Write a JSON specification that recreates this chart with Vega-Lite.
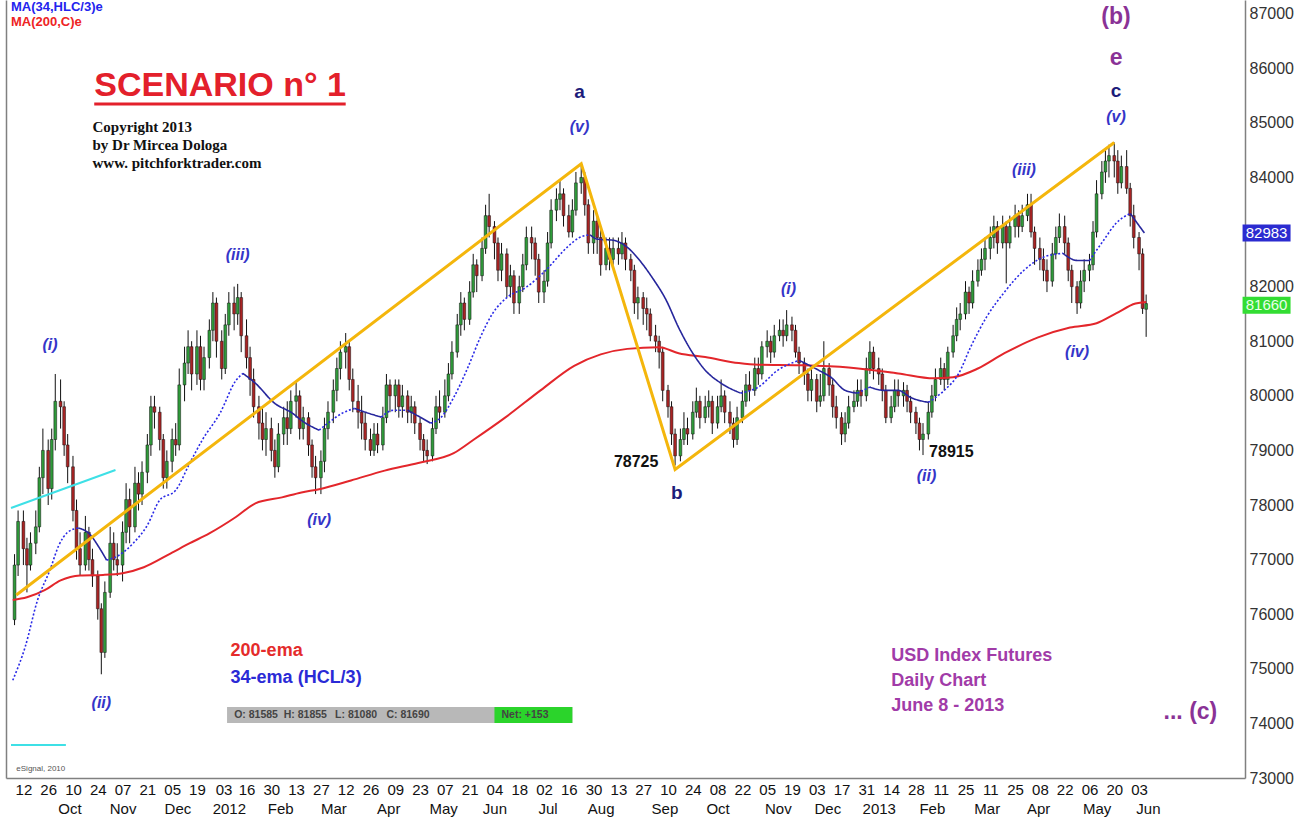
{
"$schema":"https://vega.github.io/schema/vega-lite/v6.json",
"width":1239,"height":778,"autosize":"none",
"padding":{"left":6,"right":64,"top":0,"bottom":43},
"background":"white",
"config":{"view":{"stroke":null},"text":{"font":"Liberation Sans"},"axis":{"labelFont":"Liberation Sans"}},
"datasets":{
"candles":[
{"d":"2011-09-07","o":75900,"h":77100,"l":75800,"c":76900},
{"d":"2011-09-09","o":76900,"h":77900,"l":76700,"c":77700},
{"d":"2011-09-12","o":77700,"h":77900,"l":76900,"c":77200},
{"d":"2011-09-14","o":77200,"h":77400,"l":76400,"c":76900},
{"d":"2011-09-16","o":76900,"h":77500,"l":76800,"c":77300},
{"d":"2011-09-19","o":77300,"h":77900,"l":77100,"c":77600},
{"d":"2011-09-21","o":77600,"h":78700,"l":77500,"c":78500},
{"d":"2011-09-23","o":78500,"h":79400,"l":78200,"c":79000},
{"d":"2011-09-26","o":79000,"h":79200,"l":78000,"c":78300},
{"d":"2011-09-28","o":78300,"h":79400,"l":78100,"c":79200},
{"d":"2011-09-30","o":79200,"h":80400,"l":79000,"c":79900},
{"d":"2011-10-03","o":79900,"h":80300,"l":79400,"c":79800},
{"d":"2011-10-05","o":79800,"h":79900,"l":78900,"c":79100},
{"d":"2011-10-07","o":79100,"h":79300,"l":78400,"c":78700},
{"d":"2011-10-10","o":78700,"h":78900,"l":77700,"c":77900},
{"d":"2011-10-12","o":77900,"h":78100,"l":77000,"c":77200},
{"d":"2011-10-14","o":77200,"h":77500,"l":76700,"c":76900},
{"d":"2011-10-17","o":76900,"h":77800,"l":76800,"c":77500},
{"d":"2011-10-19","o":77500,"h":77600,"l":76800,"c":77000},
{"d":"2011-10-21","o":77000,"h":77200,"l":76500,"c":76700},
{"d":"2011-10-24","o":76700,"h":76800,"l":75900,"c":76100},
{"d":"2011-10-26","o":76100,"h":76200,"l":74900,"c":75300},
{"d":"2011-10-28","o":75300,"h":76600,"l":75200,"c":76400},
{"d":"2011-10-31","o":76400,"h":77600,"l":76300,"c":77300},
{"d":"2011-11-02","o":77300,"h":77500,"l":76800,"c":77000},
{"d":"2011-11-04","o":77000,"h":77300,"l":76700,"c":76900},
{"d":"2011-11-07","o":76900,"h":77700,"l":76600,"c":77500},
{"d":"2011-11-09","o":77500,"h":78400,"l":77300,"c":78100},
{"d":"2011-11-11","o":78100,"h":78300,"l":77300,"c":77600},
{"d":"2011-11-14","o":77600,"h":78700,"l":77500,"c":78400},
{"d":"2011-11-16","o":78400,"h":78600,"l":77900,"c":78200},
{"d":"2011-11-18","o":78200,"h":78800,"l":78000,"c":78600},
{"d":"2011-11-21","o":78600,"h":79300,"l":78400,"c":79100},
{"d":"2011-11-23","o":79100,"h":80000,"l":78900,"c":79800},
{"d":"2011-11-25","o":79800,"h":80000,"l":79400,"c":79700},
{"d":"2011-11-28","o":79700,"h":79800,"l":79000,"c":79200},
{"d":"2011-11-30","o":79200,"h":79300,"l":78300,"c":78500},
{"d":"2011-12-02","o":78500,"h":79000,"l":78300,"c":78800},
{"d":"2011-12-05","o":78800,"h":79400,"l":78600,"c":79200},
{"d":"2011-12-07","o":79200,"h":79500,"l":78900,"c":79100},
{"d":"2011-12-09","o":79100,"h":80500,"l":79000,"c":80200},
{"d":"2011-12-12","o":80200,"h":80900,"l":79900,"c":80600},
{"d":"2011-12-14","o":80600,"h":81200,"l":80400,"c":80900},
{"d":"2011-12-16","o":80900,"h":81000,"l":80100,"c":80400},
{"d":"2011-12-19","o":80400,"h":81200,"l":80200,"c":80900},
{"d":"2011-12-21","o":80900,"h":81100,"l":80100,"c":80300},
{"d":"2011-12-23","o":80300,"h":80900,"l":80100,"c":80700},
{"d":"2011-12-26","o":80700,"h":81400,"l":80500,"c":81200},
{"d":"2011-12-28","o":81200,"h":81900,"l":81000,"c":81700},
{"d":"2011-12-30","o":81700,"h":81800,"l":80700,"c":81000},
{"d":"2012-01-02","o":81000,"h":81200,"l":80300,"c":80500},
{"d":"2012-01-04","o":80500,"h":81500,"l":80400,"c":81300},
{"d":"2012-01-06","o":81300,"h":81900,"l":81100,"c":81700},
{"d":"2012-01-09","o":81700,"h":82000,"l":81200,"c":81500},
{"d":"2012-01-11","o":81500,"h":82050,"l":81300,"c":81800},
{"d":"2012-01-13","o":81800,"h":81900,"l":80800,"c":81100},
{"d":"2012-01-16","o":81100,"h":81400,"l":80500,"c":80700},
{"d":"2012-01-18","o":80700,"h":80900,"l":80000,"c":80300},
{"d":"2012-01-20","o":80300,"h":80500,"l":79600,"c":79800},
{"d":"2012-01-23","o":79800,"h":80000,"l":79200,"c":79500},
{"d":"2012-01-25","o":79500,"h":79800,"l":79000,"c":79200},
{"d":"2012-01-27","o":79200,"h":79700,"l":78900,"c":79400},
{"d":"2012-01-30","o":79400,"h":79600,"l":78800,"c":79000},
{"d":"2012-02-01","o":79000,"h":79200,"l":78500,"c":78700},
{"d":"2012-02-03","o":78700,"h":79500,"l":78600,"c":79300},
{"d":"2012-02-06","o":79300,"h":79800,"l":79100,"c":79600},
{"d":"2012-02-08","o":79600,"h":79900,"l":79100,"c":79400},
{"d":"2012-02-10","o":79400,"h":80100,"l":79300,"c":79900},
{"d":"2012-02-13","o":79900,"h":80250,"l":79600,"c":80000},
{"d":"2012-02-15","o":80000,"h":80100,"l":79200,"c":79400},
{"d":"2012-02-17","o":79400,"h":79800,"l":79200,"c":79600},
{"d":"2012-02-20","o":79600,"h":79700,"l":78900,"c":79100},
{"d":"2012-02-22","o":79100,"h":79200,"l":78500,"c":78700},
{"d":"2012-02-24","o":78700,"h":78900,"l":78200,"c":78500},
{"d":"2012-02-27","o":78500,"h":79000,"l":78200,"c":78800},
{"d":"2012-02-29","o":78800,"h":79600,"l":78600,"c":79400},
{"d":"2012-03-02","o":79400,"h":79900,"l":79200,"c":79700},
{"d":"2012-03-05","o":79700,"h":80300,"l":79500,"c":80100},
{"d":"2012-03-07","o":80100,"h":80700,"l":79900,"c":80500},
{"d":"2012-03-09","o":80500,"h":81000,"l":80300,"c":80800},
{"d":"2012-03-12","o":80800,"h":81150,"l":80500,"c":80900},
{"d":"2012-03-14","o":80900,"h":81000,"l":80100,"c":80300},
{"d":"2012-03-16","o":80300,"h":80500,"l":79700,"c":79900},
{"d":"2012-03-19","o":79900,"h":80200,"l":79400,"c":79700},
{"d":"2012-03-21","o":79700,"h":80000,"l":79200,"c":79500},
{"d":"2012-03-23","o":79500,"h":79700,"l":79000,"c":79200},
{"d":"2012-03-26","o":79200,"h":79400,"l":78900,"c":79000},
{"d":"2012-03-28","o":79000,"h":79500,"l":78900,"c":79300},
{"d":"2012-03-30","o":79300,"h":79500,"l":78950,"c":79100},
{"d":"2012-04-02","o":79100,"h":79800,"l":79000,"c":79600},
{"d":"2012-04-04","o":79600,"h":80400,"l":79500,"c":80200},
{"d":"2012-04-06","o":80200,"h":80300,"l":79700,"c":80000},
{"d":"2012-04-09","o":80000,"h":80300,"l":79700,"c":80200},
{"d":"2012-04-11","o":80200,"h":80300,"l":79600,"c":79800},
{"d":"2012-04-13","o":79800,"h":80200,"l":79600,"c":80000},
{"d":"2012-04-16","o":80000,"h":80100,"l":79500,"c":79700},
{"d":"2012-04-18","o":79700,"h":80000,"l":79500,"c":79800},
{"d":"2012-04-20","o":79800,"h":79900,"l":79300,"c":79500},
{"d":"2012-04-23","o":79500,"h":79600,"l":79000,"c":79200},
{"d":"2012-04-25","o":79200,"h":79300,"l":78800,"c":79000},
{"d":"2012-04-27","o":79000,"h":79200,"l":78750,"c":78900},
{"d":"2012-04-30","o":78900,"h":79600,"l":78800,"c":79400},
{"d":"2012-05-02","o":79400,"h":80000,"l":79300,"c":79800},
{"d":"2012-05-04","o":79800,"h":80100,"l":79500,"c":79700},
{"d":"2012-05-07","o":79700,"h":80300,"l":79600,"c":80000},
{"d":"2012-05-09","o":80000,"h":80600,"l":79900,"c":80400},
{"d":"2012-05-11","o":80400,"h":81000,"l":80300,"c":80800},
{"d":"2012-05-14","o":80800,"h":81500,"l":80700,"c":81300},
{"d":"2012-05-16","o":81300,"h":81900,"l":81100,"c":81700},
{"d":"2012-05-18","o":81700,"h":81800,"l":81200,"c":81400},
{"d":"2012-05-21","o":81400,"h":82100,"l":81300,"c":81900},
{"d":"2012-05-23","o":81900,"h":82600,"l":81800,"c":82400},
{"d":"2012-05-25","o":82400,"h":82500,"l":81900,"c":82200},
{"d":"2012-05-28","o":82200,"h":82900,"l":82100,"c":82700},
{"d":"2012-05-30","o":82700,"h":83500,"l":82600,"c":83300},
{"d":"2012-06-01","o":83300,"h":83700,"l":82900,"c":83100},
{"d":"2012-06-04","o":83100,"h":83200,"l":82500,"c":82800},
{"d":"2012-06-06","o":82800,"h":82900,"l":82100,"c":82300},
{"d":"2012-06-08","o":82300,"h":82800,"l":82100,"c":82600},
{"d":"2012-06-11","o":82600,"h":82700,"l":81800,"c":82000},
{"d":"2012-06-13","o":82000,"h":82400,"l":81800,"c":82200},
{"d":"2012-06-15","o":82200,"h":82300,"l":81500,"c":81700},
{"d":"2012-06-18","o":81700,"h":82200,"l":81500,"c":82000},
{"d":"2012-06-20","o":82000,"h":82600,"l":81900,"c":82400},
{"d":"2012-06-22","o":82400,"h":83100,"l":82300,"c":82900},
{"d":"2012-06-25","o":82900,"h":83100,"l":82500,"c":82800},
{"d":"2012-06-27","o":82800,"h":82900,"l":82200,"c":82500},
{"d":"2012-06-29","o":82500,"h":82600,"l":81700,"c":81900},
{"d":"2012-07-02","o":81900,"h":82300,"l":81700,"c":82100},
{"d":"2012-07-04","o":82100,"h":83000,"l":82000,"c":82800},
{"d":"2012-07-06","o":82800,"h":83600,"l":82700,"c":83400},
{"d":"2012-07-09","o":83400,"h":83800,"l":83200,"c":83600},
{"d":"2012-07-11","o":83600,"h":83950,"l":83400,"c":83700},
{"d":"2012-07-13","o":83700,"h":83800,"l":83100,"c":83300},
{"d":"2012-07-16","o":83300,"h":83500,"l":82900,"c":83000},
{"d":"2012-07-18","o":83000,"h":83600,"l":82900,"c":83400},
{"d":"2012-07-20","o":83400,"h":84100,"l":83300,"c":83900},
{"d":"2012-07-23","o":83900,"h":84250,"l":83700,"c":84000},
{"d":"2012-07-25","o":84000,"h":84100,"l":83300,"c":83500},
{"d":"2012-07-27","o":83500,"h":83600,"l":82600,"c":82800},
{"d":"2012-07-30","o":82800,"h":83400,"l":82600,"c":83200},
{"d":"2012-08-01","o":83200,"h":83300,"l":82600,"c":82900},
{"d":"2012-08-03","o":82900,"h":83100,"l":82200,"c":82400},
{"d":"2012-08-06","o":82400,"h":82900,"l":82300,"c":82700},
{"d":"2012-08-08","o":82700,"h":82900,"l":82300,"c":82500},
{"d":"2012-08-10","o":82500,"h":82900,"l":82400,"c":82700},
{"d":"2012-08-13","o":82700,"h":82900,"l":82400,"c":82600},
{"d":"2012-08-15","o":82600,"h":83000,"l":82500,"c":82800},
{"d":"2012-08-17","o":82800,"h":82900,"l":82300,"c":82500},
{"d":"2012-08-20","o":82500,"h":82600,"l":82100,"c":82300},
{"d":"2012-08-22","o":82300,"h":82400,"l":81500,"c":81700},
{"d":"2012-08-24","o":81700,"h":82000,"l":81400,"c":81800},
{"d":"2012-08-27","o":81800,"h":81900,"l":81300,"c":81600},
{"d":"2012-08-29","o":81600,"h":81800,"l":81200,"c":81500},
{"d":"2012-08-31","o":81500,"h":81600,"l":81000,"c":81100},
{"d":"2012-09-03","o":81100,"h":81300,"l":80800,"c":81000},
{"d":"2012-09-05","o":81000,"h":81100,"l":80500,"c":80800},
{"d":"2012-09-07","o":80800,"h":80900,"l":79900,"c":80100},
{"d":"2012-09-10","o":80100,"h":80200,"l":79600,"c":79800},
{"d":"2012-09-12","o":79800,"h":79900,"l":79100,"c":79300},
{"d":"2012-09-14","o":79300,"h":79400,"l":78725,"c":78900},
{"d":"2012-09-17","o":78900,"h":79400,"l":78800,"c":79200},
{"d":"2012-09-19","o":79200,"h":79700,"l":79100,"c":79400},
{"d":"2012-09-21","o":79400,"h":79600,"l":79100,"c":79300},
{"d":"2012-09-24","o":79300,"h":79900,"l":79200,"c":79700},
{"d":"2012-09-26","o":79700,"h":80150,"l":79600,"c":79900},
{"d":"2012-09-28","o":79900,"h":80000,"l":79400,"c":79600},
{"d":"2012-10-01","o":79600,"h":80000,"l":79500,"c":79800},
{"d":"2012-10-03","o":79800,"h":80100,"l":79600,"c":79900},
{"d":"2012-10-05","o":79900,"h":80000,"l":79300,"c":79500},
{"d":"2012-10-08","o":79500,"h":80000,"l":79400,"c":79800},
{"d":"2012-10-10","o":79800,"h":80300,"l":79700,"c":80000},
{"d":"2012-10-12","o":80000,"h":80100,"l":79500,"c":79700},
{"d":"2012-10-15","o":79700,"h":79900,"l":79300,"c":79500},
{"d":"2012-10-17","o":79500,"h":79600,"l":79050,"c":79200},
{"d":"2012-10-19","o":79200,"h":79800,"l":79100,"c":79600},
{"d":"2012-10-22","o":79600,"h":80100,"l":79500,"c":79900},
{"d":"2012-10-24","o":79900,"h":80400,"l":79800,"c":80200},
{"d":"2012-10-26","o":80200,"h":80450,"l":79900,"c":80100},
{"d":"2012-10-29","o":80100,"h":80700,"l":80000,"c":80500},
{"d":"2012-10-31","o":80500,"h":80700,"l":80200,"c":80400},
{"d":"2012-11-02","o":80400,"h":81000,"l":80300,"c":80900},
{"d":"2012-11-05","o":80900,"h":81200,"l":80700,"c":81000},
{"d":"2012-11-07","o":81000,"h":81100,"l":80600,"c":80800},
{"d":"2012-11-09","o":80800,"h":81300,"l":80700,"c":81100},
{"d":"2012-11-12","o":81100,"h":81400,"l":81000,"c":81200},
{"d":"2012-11-14","o":81200,"h":81400,"l":80900,"c":81100},
{"d":"2012-11-16","o":81100,"h":81570,"l":81000,"c":81300},
{"d":"2012-11-19","o":81300,"h":81450,"l":81000,"c":81200},
{"d":"2012-11-21","o":81200,"h":81300,"l":80700,"c":80800},
{"d":"2012-11-23","o":80800,"h":80900,"l":80400,"c":80600},
{"d":"2012-11-26","o":80600,"h":80700,"l":80200,"c":80400},
{"d":"2012-11-28","o":80400,"h":80500,"l":79900,"c":80100},
{"d":"2012-11-30","o":80100,"h":80500,"l":79900,"c":80300},
{"d":"2012-12-03","o":80300,"h":80400,"l":79700,"c":79900},
{"d":"2012-12-05","o":79900,"h":80400,"l":79800,"c":80000},
{"d":"2012-12-07","o":80000,"h":81000,"l":79900,"c":80500},
{"d":"2012-12-10","o":80500,"h":80600,"l":80000,"c":80200},
{"d":"2012-12-12","o":80200,"h":80300,"l":79600,"c":79800},
{"d":"2012-12-14","o":79800,"h":80000,"l":79400,"c":79600},
{"d":"2012-12-17","o":79600,"h":79700,"l":79100,"c":79300},
{"d":"2012-12-19","o":79300,"h":79700,"l":79150,"c":79500},
{"d":"2012-12-21","o":79500,"h":80000,"l":79400,"c":79800},
{"d":"2012-12-24","o":79800,"h":80100,"l":79700,"c":79900},
{"d":"2012-12-26","o":79900,"h":80300,"l":79800,"c":80100},
{"d":"2012-12-28","o":80100,"h":80300,"l":79800,"c":80000},
{"d":"2012-12-31","o":80000,"h":80700,"l":79900,"c":80500},
{"d":"2013-01-02","o":80500,"h":81000,"l":80400,"c":80800},
{"d":"2013-01-04","o":80800,"h":80900,"l":80300,"c":80500},
{"d":"2013-01-07","o":80500,"h":80700,"l":80200,"c":80400},
{"d":"2013-01-09","o":80400,"h":80500,"l":79900,"c":80100},
{"d":"2013-01-11","o":80100,"h":80200,"l":79500,"c":79600},
{"d":"2013-01-14","o":79600,"h":80000,"l":79500,"c":79800},
{"d":"2013-01-16","o":79800,"h":80300,"l":79700,"c":80100},
{"d":"2013-01-18","o":80100,"h":80300,"l":79800,"c":80000},
{"d":"2013-01-21","o":80000,"h":80250,"l":79800,"c":80100},
{"d":"2013-01-23","o":80100,"h":80200,"l":79700,"c":79900},
{"d":"2013-01-25","o":79900,"h":80000,"l":79500,"c":79700},
{"d":"2013-01-28","o":79700,"h":79800,"l":79300,"c":79500},
{"d":"2013-01-30","o":79500,"h":79600,"l":79000,"c":79200},
{"d":"2013-02-01","o":79200,"h":79500,"l":78915,"c":79300},
{"d":"2013-02-04","o":79300,"h":79900,"l":79200,"c":79700},
{"d":"2013-02-06","o":79700,"h":80200,"l":79600,"c":80000},
{"d":"2013-02-08","o":80000,"h":80500,"l":79900,"c":80300},
{"d":"2013-02-11","o":80300,"h":80700,"l":80200,"c":80500},
{"d":"2013-02-13","o":80500,"h":80600,"l":80100,"c":80300},
{"d":"2013-02-15","o":80300,"h":80900,"l":80200,"c":80800},
{"d":"2013-02-18","o":80800,"h":81300,"l":80700,"c":81100},
{"d":"2013-02-20","o":81100,"h":81620,"l":81000,"c":81400},
{"d":"2013-02-22","o":81400,"h":81700,"l":81200,"c":81500},
{"d":"2013-02-25","o":81500,"h":82100,"l":81400,"c":81900},
{"d":"2013-02-27","o":81900,"h":82000,"l":81500,"c":81700},
{"d":"2013-03-01","o":81700,"h":82300,"l":81600,"c":82100},
{"d":"2013-03-04","o":82100,"h":82500,"l":82000,"c":82300},
{"d":"2013-03-06","o":82300,"h":82700,"l":82200,"c":82500},
{"d":"2013-03-08","o":82500,"h":82900,"l":82300,"c":82700},
{"d":"2013-03-11","o":82700,"h":83100,"l":82500,"c":82900},
{"d":"2013-03-13","o":82900,"h":83300,"l":82700,"c":83100},
{"d":"2013-03-15","o":83100,"h":83200,"l":82600,"c":82800},
{"d":"2013-03-18","o":82800,"h":83300,"l":82700,"c":83100},
{"d":"2013-03-20","o":83100,"h":83200,"l":82060,"c":82800},
{"d":"2013-03-22","o":82800,"h":83300,"l":82700,"c":83100},
{"d":"2013-03-25","o":83100,"h":83500,"l":82900,"c":83300},
{"d":"2013-03-27","o":83300,"h":83400,"l":82900,"c":83100},
{"d":"2013-03-29","o":83100,"h":83500,"l":83000,"c":83300},
{"d":"2013-04-01","o":83300,"h":83700,"l":83200,"c":83500},
{"d":"2013-04-03","o":83500,"h":83700,"l":82900,"c":83000},
{"d":"2013-04-05","o":83000,"h":83100,"l":82400,"c":82700},
{"d":"2013-04-08","o":82700,"h":82900,"l":82300,"c":82500},
{"d":"2013-04-10","o":82500,"h":82700,"l":82100,"c":82300},
{"d":"2013-04-12","o":82300,"h":82500,"l":81900,"c":82100},
{"d":"2013-04-15","o":82100,"h":82800,"l":82000,"c":82600},
{"d":"2013-04-17","o":82600,"h":83100,"l":82500,"c":82900},
{"d":"2013-04-19","o":82900,"h":83340,"l":82800,"c":83100},
{"d":"2013-04-22","o":83100,"h":83300,"l":82600,"c":82800},
{"d":"2013-04-24","o":82800,"h":82900,"l":82100,"c":82300},
{"d":"2013-04-26","o":82300,"h":82400,"l":81700,"c":82000},
{"d":"2013-04-29","o":82000,"h":82100,"l":81500,"c":81700},
{"d":"2013-05-01","o":81700,"h":82300,"l":81600,"c":82100},
{"d":"2013-05-03","o":82100,"h":82500,"l":81900,"c":82300},
{"d":"2013-05-06","o":82300,"h":82600,"l":82100,"c":82400},
{"d":"2013-05-08","o":82400,"h":83200,"l":82300,"c":83000},
{"d":"2013-05-10","o":83000,"h":83950,"l":82900,"c":83700},
{"d":"2013-05-13","o":83700,"h":84300,"l":83600,"c":84100},
{"d":"2013-05-15","o":84100,"h":84500,"l":83900,"c":84300},
{"d":"2013-05-17","o":84300,"h":84600,"l":84000,"c":84400},
{"d":"2013-05-20","o":84400,"h":84640,"l":84000,"c":84300},
{"d":"2013-05-22","o":84300,"h":84500,"l":83700,"c":83900},
{"d":"2013-05-24","o":83900,"h":84400,"l":83800,"c":84200},
{"d":"2013-05-27","o":84200,"h":84500,"l":83700,"c":83800},
{"d":"2013-05-29","o":83800,"h":83900,"l":83100,"c":83300},
{"d":"2013-05-31","o":83300,"h":83500,"l":82700,"c":82900},
{"d":"2013-06-03","o":82900,"h":83000,"l":82300,"c":82600},
{"d":"2013-06-05","o":82600,"h":82700,"l":81500,"c":81600},
{"d":"2013-06-07","o":81585,"h":81855,"l":81080,"c":81690}
],
"ema200":[
{"d":"2011-09-06","v":76260},{"d":"2011-09-14","v":76310},{"d":"2011-09-24","v":76440},{"d":"2011-10-03","v":76620},
{"d":"2011-10-14","v":76710},{"d":"2011-10-27","v":76720},{"d":"2011-11-07","v":76750},{"d":"2011-11-19","v":76860},
{"d":"2011-12-04","v":77110},{"d":"2011-12-15","v":77300},{"d":"2011-12-26","v":77480},{"d":"2012-01-10","v":77780},
{"d":"2012-01-21","v":78030},{"d":"2012-02-05","v":78140},{"d":"2012-02-16","v":78230},{"d":"2012-02-26","v":78290},
{"d":"2012-03-15","v":78450},{"d":"2012-04-03","v":78630},{"d":"2012-04-22","v":78770},{"d":"2012-05-12","v":78950},
{"d":"2012-05-23","v":79190},{"d":"2012-06-10","v":79600},{"d":"2012-06-30","v":80100},{"d":"2012-07-19","v":80550},
{"d":"2012-08-03","v":80760},{"d":"2012-08-18","v":80860},{"d":"2012-09-05","v":80890},{"d":"2012-09-16","v":80780},
{"d":"2012-10-01","v":80710},{"d":"2012-10-20","v":80600},{"d":"2012-10-31","v":80570},{"d":"2012-11-23","v":80560},
{"d":"2012-12-21","v":80520},{"d":"2013-01-18","v":80410},{"d":"2013-02-07","v":80320},{"d":"2013-02-18","v":80340},
{"d":"2013-03-04","v":80500},{"d":"2013-03-19","v":80780},{"d":"2013-04-07","v":81070},{"d":"2013-04-25","v":81250},
{"d":"2013-05-10","v":81330},{"d":"2013-05-21","v":81510},{"d":"2013-06-01","v":81690},{"d":"2013-06-07","v":81720}
],
"ema34":[
{"s":1,"d":"2011-09-06","v":74790},{"s":1,"d":"2011-09-13","v":75400},{"s":1,"d":"2011-09-20","v":76260},{"s":1,"d":"2011-09-27","v":76810},{"s":1,"d":"2011-10-02","v":77260},{"s":1,"d":"2011-10-07","v":77500},{"s":1,"d":"2011-10-13","v":77580},
{"s":2,"d":"2011-10-13","v":77580},{"s":2,"d":"2011-10-19","v":77480},{"s":2,"d":"2011-10-25","v":77210},{"s":2,"d":"2011-10-29","v":76990},
{"s":3,"d":"2011-10-29","v":76990},{"s":3,"d":"2011-11-05","v":77080},{"s":3,"d":"2011-11-13","v":77300},{"s":3,"d":"2011-11-21","v":77630},{"s":3,"d":"2011-11-28","v":78090},{"s":3,"d":"2011-12-07","v":78270},{"s":3,"d":"2011-12-15","v":78770},{"s":3,"d":"2011-12-22","v":79190},{"s":3,"d":"2012-01-01","v":79680},{"s":3,"d":"2012-01-10","v":80280},{"s":3,"d":"2012-01-14","v":80410},
{"s":4,"d":"2012-01-14","v":80410},{"s":4,"d":"2012-01-21","v":80230},{"s":4,"d":"2012-02-01","v":79860},{"s":4,"d":"2012-02-11","v":79680},{"s":4,"d":"2012-02-16","v":79550},{"s":4,"d":"2012-02-26","v":79370},
{"s":5,"d":"2012-02-26","v":79370},{"s":5,"d":"2012-03-02","v":79500},{"s":5,"d":"2012-03-10","v":79680},{"s":5,"d":"2012-03-17","v":79770},
{"s":6,"d":"2012-03-17","v":79770},{"s":6,"d":"2012-03-25","v":79680},{"s":6,"d":"2012-04-01","v":79610},
{"s":7,"d":"2012-04-01","v":79610},{"s":7,"d":"2012-04-08","v":79735},{"s":7,"d":"2012-04-16","v":79735},
{"s":8,"d":"2012-04-16","v":79735},{"s":8,"d":"2012-04-23","v":79610},{"s":8,"d":"2012-04-29","v":79500},
{"s":9,"d":"2012-04-29","v":79500},{"s":9,"d":"2012-05-05","v":79610},{"s":9,"d":"2012-05-12","v":79970},{"s":9,"d":"2012-05-20","v":80520},{"s":9,"d":"2012-05-27","v":81070},{"s":9,"d":"2012-06-03","v":81510},{"s":9,"d":"2012-06-11","v":81800},{"s":9,"d":"2012-06-22","v":81990},{"s":9,"d":"2012-07-03","v":82300},{"s":9,"d":"2012-07-15","v":82720},{"s":9,"d":"2012-07-22","v":82900},{"s":9,"d":"2012-07-28","v":82950},
{"s":10,"d":"2012-07-28","v":82950},{"s":10,"d":"2012-08-01","v":82870},{"s":10,"d":"2012-08-10","v":82850},{"s":10,"d":"2012-08-18","v":82720},{"s":10,"d":"2012-08-25","v":82480},{"s":10,"d":"2012-09-01","v":82170},{"s":10,"d":"2012-09-09","v":81750},{"s":10,"d":"2012-09-16","v":81250},{"s":10,"d":"2012-09-24","v":80780},{"s":10,"d":"2012-10-01","v":80470},{"s":10,"d":"2012-10-10","v":80230},{"s":10,"d":"2012-10-21","v":80050},
{"s":11,"d":"2012-10-21","v":80050},{"s":11,"d":"2012-10-31","v":80160},{"s":11,"d":"2012-11-11","v":80470},{"s":11,"d":"2012-11-23","v":80650},
{"s":12,"d":"2012-11-23","v":80650},{"s":12,"d":"2012-12-04","v":80470},{"s":12,"d":"2012-12-11","v":80340},{"s":12,"d":"2012-12-19","v":80100},{"s":12,"d":"2012-12-26","v":80050},
{"s":13,"d":"2012-12-26","v":80050},{"s":13,"d":"2013-01-02","v":80160},
{"s":14,"d":"2013-01-02","v":80160},{"s":14,"d":"2013-01-10","v":80100},{"s":14,"d":"2013-01-18","v":80100},{"s":14,"d":"2013-01-25","v":79970},{"s":14,"d":"2013-02-04","v":79880},
{"s":15,"d":"2013-02-04","v":79880},{"s":15,"d":"2013-02-13","v":80100},{"s":15,"d":"2013-02-21","v":80400},{"s":15,"d":"2013-02-28","v":80900},{"s":15,"d":"2013-03-09","v":81450},{"s":15,"d":"2013-03-19","v":81900},{"s":15,"d":"2013-03-30","v":82300},{"s":15,"d":"2013-04-10","v":82540},{"s":15,"d":"2013-04-21","v":82610},
{"s":16,"d":"2013-04-21","v":82610},{"s":16,"d":"2013-04-29","v":82480},{"s":16,"d":"2013-05-06","v":82480},
{"s":17,"d":"2013-05-06","v":82480},{"s":17,"d":"2013-05-14","v":82850},{"s":17,"d":"2013-05-21","v":83160},{"s":17,"d":"2013-05-29","v":83340},
{"s":18,"d":"2013-05-29","v":83340},{"s":18,"d":"2013-06-06","v":82983}
],
"fork":[{"d":"2011-09-08","v":76352},{"d":"2012-07-23","v":84250},{"d":"2012-09-14","v":78650},{"d":"2013-05-20","v":84640}],
"cyan":[{"d":"2011-09-05","v":77945,"d2":"2011-11-03","v2":78642},{"d":"2011-09-05","v":73605,"d2":"2011-10-06","v2":73605}],
"tags":[{"d":"2013-08-14","v":82983},{"d":"2013-08-14","v":81660}]
},
"encoding":{
"x":{"field":"d","type":"temporal","scale":{"domain":[{"year":2011,"month":9,"date":5,"utc":true},{"year":2013,"month":7,"date":30,"utc":true}],"nice":false},"axis":null},
"y":{"field":"v","type":"quantitative","scale":{"domain":[73000,87250],"nice":false,"zero":false},"axis":null}
},
"resolve":{"axis":{"x":"independent","y":"independent"}},
"layer":[
{"data":{"name":"candles"},"mark":{"type":"rule","color":"#111111","strokeWidth":1},
"encoding":{
"x":{"field":"d","type":"temporal","scale":{"domain":[{"year":2011,"month":9,"date":5,"utc":true},{"year":2013,"month":7,"date":30,"utc":true}],"nice":false},
"axis":{"orient":"bottom","title":null,"grid":false,"ticks":false,"domain":true,"domainColor":"#808080","domainWidth":1.5,"labelPadding":4,"labelFontSize":15,"labelColor":"#111111","labelOverlap":false,"labelBound":false,"labelFlush":false,
"labelExpr":"utcFormat(datum.value,'%d')",
"values":[{"year":2011,"month":9,"date":12,"utc":true},{"year":2011,"month":9,"date":26,"utc":true},{"year":2011,"month":10,"date":10,"utc":true},{"year":2011,"month":10,"date":24,"utc":true},{"year":2011,"month":11,"date":7,"utc":true},{"year":2011,"month":11,"date":21,"utc":true},{"year":2011,"month":12,"date":5,"utc":true},{"year":2011,"month":12,"date":19,"utc":true},{"year":2012,"month":1,"date":3,"utc":true},{"year":2012,"month":1,"date":16,"utc":true},{"year":2012,"month":1,"date":30,"utc":true},{"year":2012,"month":2,"date":13,"utc":true},{"year":2012,"month":2,"date":27,"utc":true},{"year":2012,"month":3,"date":12,"utc":true},{"year":2012,"month":3,"date":26,"utc":true},{"year":2012,"month":4,"date":9,"utc":true},{"year":2012,"month":4,"date":23,"utc":true},{"year":2012,"month":5,"date":7,"utc":true},{"year":2012,"month":5,"date":21,"utc":true},{"year":2012,"month":6,"date":4,"utc":true},{"year":2012,"month":6,"date":18,"utc":true},{"year":2012,"month":7,"date":2,"utc":true},{"year":2012,"month":7,"date":16,"utc":true},{"year":2012,"month":7,"date":30,"utc":true},{"year":2012,"month":8,"date":13,"utc":true},{"year":2012,"month":8,"date":27,"utc":true},{"year":2012,"month":9,"date":10,"utc":true},{"year":2012,"month":9,"date":24,"utc":true},{"year":2012,"month":10,"date":8,"utc":true},{"year":2012,"month":10,"date":22,"utc":true},{"year":2012,"month":11,"date":5,"utc":true},{"year":2012,"month":11,"date":19,"utc":true},{"year":2012,"month":12,"date":3,"utc":true},{"year":2012,"month":12,"date":17,"utc":true},{"year":2012,"month":12,"date":31,"utc":true},{"year":2013,"month":1,"date":14,"utc":true},{"year":2013,"month":1,"date":28,"utc":true},{"year":2013,"month":2,"date":11,"utc":true},{"year":2013,"month":2,"date":25,"utc":true},{"year":2013,"month":3,"date":11,"utc":true},{"year":2013,"month":3,"date":25,"utc":true},{"year":2013,"month":4,"date":8,"utc":true},{"year":2013,"month":4,"date":22,"utc":true},{"year":2013,"month":5,"date":6,"utc":true},{"year":2013,"month":5,"date":20,"utc":true},{"year":2013,"month":6,"date":3,"utc":true}]}},
"y":{"field":"l","type":"quantitative","axis":{"orient":"right","title":null,"grid":false,"ticks":false,"domain":true,"domainColor":"#808080","domainWidth":1.5,"labelPadding":4,"labelFontSize":16,"labelColor":"#333333","labelOverlap":false,"labelFlush":false,"format":"d","values":[73000,74000,75000,76000,77000,78000,79000,80000,81000,82000,84000,85000,86000,87000]}},
"y2":{"field":"h"}}},
{"data":{"name":"candles"},"mark":{"type":"bar","width":2.8,"stroke":"#111111","strokeWidth":0.5},
"encoding":{
"x":{"field":"d","type":"temporal","axis":{"orient":"bottom","offset":19,"title":null,"grid":false,"ticks":false,"domain":false,"labelPadding":4,"labelFontSize":15,"labelColor":"#111111","labelOverlap":false,"labelBound":false,"labelFlush":false,
"labelExpr":"utcmonth(datum.value)==0 ? utcFormat(datum.value,'%Y') : utcFormat(datum.value,'%b')",
"values":[{"year":2011,"month":10,"date":8,"utc":true},{"year":2011,"month":11,"date":7,"utc":true},{"year":2011,"month":12,"date":8,"utc":true},{"year":2012,"month":1,"date":6,"utc":true},{"year":2012,"month":2,"date":4,"utc":true},{"year":2012,"month":3,"date":5,"utc":true},{"year":2012,"month":4,"date":5,"utc":true},{"year":2012,"month":5,"date":6,"utc":true},{"year":2012,"month":6,"date":4,"utc":true},{"year":2012,"month":7,"date":4,"utc":true},{"year":2012,"month":8,"date":3,"utc":true},{"year":2012,"month":9,"date":8,"utc":true},{"year":2012,"month":10,"date":8,"utc":true},{"year":2012,"month":11,"date":11,"utc":true},{"year":2012,"month":12,"date":9,"utc":true},{"year":2013,"month":1,"date":7,"utc":true},{"year":2013,"month":2,"date":6,"utc":true},{"year":2013,"month":3,"date":9,"utc":true},{"year":2013,"month":4,"date":7,"utc":true},{"year":2013,"month":5,"date":10,"utc":true},{"year":2013,"month":6,"date":8,"utc":true}]}},
"y":{"field":"o","type":"quantitative","axis":{"orient":"left","title":null,"labels":false,"ticks":false,"grid":false,"domain":true,"domainColor":"#808080","domainWidth":1.5}},
"y2":{"field":"c"},
"color":{"condition":{"test":"datum.c >= datum.o","value":"#2f9a3a"},"value":"#a82424"}}},
{"data":{"name":"cyan"},"mark":{"type":"rule","color":"#3ee0e6","strokeWidth":2},"encoding":{"x2":{"field":"d2"},"y2":{"field":"v2"}}},
{"data":{"name":"ema200"},"mark":{"type":"line","color":"#e3262b","strokeWidth":2,"interpolate":"monotone"},"encoding":{}},
{"data":{"name":"ema34"},"mark":{"type":"line","strokeWidth":1.6,"interpolate":"monotone"},
"encoding":{"detail":{"field":"s"},
"color":{"condition":{"test":"datum.s % 2 == 1","value":"#2a2ae6"},"value":"#26269c"},
"strokeDash":{"condition":{"test":"datum.s % 2 == 1","value":[2,2]},"value":[1,0]}}},
{"data":{"name":"fork"},"mark":{"type":"line","color":"#f4b60c","strokeWidth":3},"encoding":{}},
{"data":{"values":[{"d":"2012-01-05","v":74301,"d2":"2012-07-18","v2":74008}]},"mark":{"type":"rect","color":"#b8b8b8"},"encoding":{"x2":{"field":"d2"},"y2":{"field":"v2"}}},
{"data":{"values":[{"d":"2012-06-04","v":74301,"d2":"2012-07-18","v2":74008}]},"mark":{"type":"rect","color":"#2bd42b"},"encoding":{"x2":{"field":"d2"},"y2":{"field":"v2"}}},
{"data":{"values":[{"d":"2012-01-09","v":74154,"t":"O: 81585"},{"d":"2012-02-06","v":74154,"t":"H: 81855"},{"d":"2012-03-06","v":74154,"t":"L: 81080"},{"d":"2012-04-04","v":74154,"t":"C: 81690"},{"d":"2012-06-08","v":74154,"t":"Net: +153"}]},
"mark":{"type":"text","align":"left","baseline":"middle","fontSize":10.5,"fontWeight":"bold","color":"#444444"},"encoding":{"text":{"field":"t"}}},
{"data":{"values":[{"d":"2011-09-27","v":80931,"t":"(i)"},{"d":"2011-10-26","v":74374,"t":"(ii)"},{"d":"2012-01-11","v":82579,"t":"(iii)"},{"d":"2012-02-26","v":77726,"t":"(iv)"},{"d":"2012-07-22","v":84924,"t":"(v)"},{"d":"2012-11-17","v":81957,"t":"(i)"},{"d":"2013-02-03","v":78531,"t":"(ii)"},{"d":"2013-03-30","v":84136,"t":"(iii)"},{"d":"2013-04-29","v":80803,"t":"(iv)"},{"d":"2013-05-21","v":85107,"t":"(v)"}]},
"mark":{"type":"text","align":"center","baseline":"middle","fontSize":16,"fontStyle":"italic","fontWeight":"bold","color":"#3535c8"},"encoding":{"text":{"field":"t"}}},
{"data":{"values":[{"d":"2012-07-22","v":85565,"t":"a"},{"d":"2012-09-15","v":78220,"t":"b"},{"d":"2013-05-21","v":85583,"t":"c"}]},
"mark":{"type":"text","align":"center","baseline":"middle","fontSize":19,"fontWeight":"bold","color":"#1c1c7a"},"encoding":{"text":{"field":"t"}}},
{"data":{"values":[{"d":"2012-08-23","v":78788,"t":"78725"},{"d":"2013-02-17","v":78971,"t":"78915"}]},
"mark":{"type":"text","align":"center","baseline":"middle","fontSize":16,"fontWeight":"bold","color":"#111111"},"encoding":{"text":{"field":"t"}}},
{"data":{"values":[{"d":"2013-05-21","v":86939,"t":"(b)"},{"d":"2013-05-21","v":86188,"t":"e"},{"d":"2013-07-02","v":74209,"t":"... (c)"}]},
"mark":{"type":"text","align":"center","baseline":"middle","fontSize":23,"fontWeight":"bold","color":"#8a3296"},"encoding":{"text":{"field":"t"}}},
{"data":{"values":[{"d":"2013-01-14","v":75235,"t":"USD Index Futures"},{"d":"2013-01-14","v":74777,"t":"Daily Chart"},{"d":"2013-01-14","v":74319,"t":"June 8 - 2013"}]},
"mark":{"type":"text","align":"left","baseline":"middle","fontSize":18,"fontWeight":"bold","color":"#a13ba8"},"encoding":{"text":{"field":"t"}}},
{"data":{"values":[{"d":"2012-01-07","v":75326,"t":"200-ema"}]},
"mark":{"type":"text","align":"left","baseline":"middle","fontSize":18,"fontWeight":"bold","color":"#e42b2b"},"encoding":{"text":{"field":"t"}}},
{"data":{"values":[{"d":"2012-01-07","v":74832,"t":"34-ema (HCL/3)"}]},
"mark":{"type":"text","align":"left","baseline":"middle","fontSize":18,"fontWeight":"bold","color":"#2a2ad6"},"encoding":{"text":{"field":"t"}}},
{"data":{"values":[{"d":"2011-09-05","v":87120,"t":"MA(34,HLC/3)e"}]},
"mark":{"type":"text","align":"left","baseline":"middle","fontSize":13,"fontWeight":"bold","color":"#2323ee"},"encoding":{"text":{"field":"t"}}},
{"data":{"values":[{"d":"2011-09-05","v":86850,"t":"MA(200,C)e"}]},
"mark":{"type":"text","align":"left","baseline":"middle","fontSize":13,"fontWeight":"bold","color":"#ee2323"},"encoding":{"text":{"field":"t"}}},
{"data":{"values":[{"d":"2011-10-22","v":85675,"t":"SCENARIO n° 1"}]},
"mark":{"type":"text","align":"left","baseline":"middle","fontSize":34,"fontWeight":"bold","color":"#e3202b"},"encoding":{"text":{"field":"t"}}},
{"data":{"values":[{"d":"2011-10-22","v":85345,"d2":"2012-03-12"}]},"mark":{"type":"rule","color":"#e3202b","strokeWidth":3},"encoding":{"x2":{"field":"d2"}}},
{"data":{"values":[{"d":"2011-10-21","v":84924,"t":"Copyright 2013"},{"d":"2011-10-21","v":84594,"t":"by Dr Mircea Dologa"},{"d":"2011-10-21","v":84265,"t":"www. pitchforktrader.com"}]},
"mark":{"type":"text","align":"left","baseline":"middle","font":"Liberation Serif","fontSize":15,"fontWeight":"bold","color":"#111111"},"encoding":{"text":{"field":"t"}}},
{"data":{"values":[{"d":"2011-09-08","v":73165,"t":"eSignal, 2010"}]},
"mark":{"type":"text","align":"left","baseline":"middle","fontSize":8,"color":"#555555"},"encoding":{"text":{"field":"t"}}},
{"data":{"name":"tags"},"mark":{"type":"tick","orient":"horizontal","size":48,"thickness":17,"opacity":1},
"encoding":{"color":{"condition":{"test":"datum.v > 82500","value":"#2b2bd0"},"value":"#33dd33"}}},
{"data":{"name":"tags"},"mark":{"type":"text","align":"center","baseline":"middle","fontSize":15},
"encoding":{"text":{"field":"v","format":"d"},"color":{"condition":{"test":"datum.v > 82500","value":"#ffffff"},"value":"#eaffea"}}}
]
}
